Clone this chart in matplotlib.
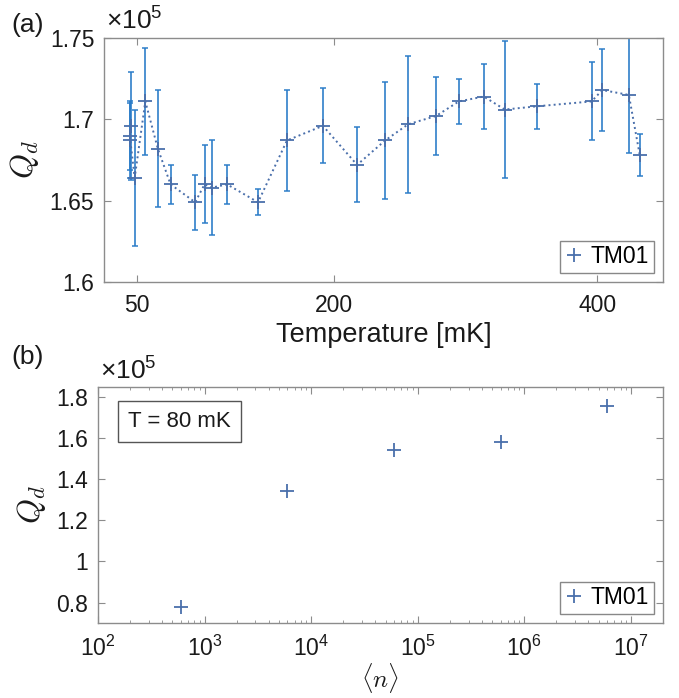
import numpy as np
import matplotlib
matplotlib.use('Agg')
import matplotlib.pyplot as plt
from matplotlib.lines import Line2D
from matplotlib.ticker import FixedLocator, LogLocator, NullFormatter

plt.rcParams['font.family'] = ['Liberation Sans', 'DejaVu Sans']
plt.rcParams['xtick.direction'] = 'in'
plt.rcParams['ytick.direction'] = 'in'

# (a) Q_d vs temperature, values in units of 1e5
temp_mK = [45.3, 44.8, 45.0, 48.3, 56.4, 65.9, 75.6, 94.3, 101.4, 106.9, 118.6,
           142.1, 164.1, 191.4, 217.4, 238.7, 256.3, 277.3, 294.8, 313.7, 329.7,
           354.2, 395.7, 403.8, 424.0, 432.3]
qd_temp = [1.696, 1.690, 1.687, 1.664, 1.711, 1.682, 1.660, 1.649, 1.660, 1.658,
           1.660, 1.649, 1.687, 1.696, 1.672, 1.687, 1.697, 1.702, 1.711, 1.714,
           1.706, 1.708, 1.711, 1.718, 1.715, 1.678]
qd_err = [0.033, 0.021, 0.023, 0.042, 0.033, 0.036, 0.012, 0.017, 0.024, 0.029,
          0.012, 0.008, 0.031, 0.023, 0.023, 0.036, 0.042, 0.024, 0.014, 0.020,
          0.042, 0.014, 0.024, 0.025, 0.036, 0.013]

# (b) Q_d vs photon number at T = 80 mK, values in units of 1e5
n_photon = [6e2, 6e3, 6e4, 6e5, 6e6]
qd_n = [0.777, 1.343, 1.541, 1.582, 1.758]

err_col = '#2a7cc8'
mk_col = '#4a6fab'
spine_col = '#8c8c8c'
txt_col = '#1a1a1a'

fig = plt.figure(figsize=(6.79, 6.98), dpi=100)
ax1 = fig.add_axes([0.1532, 0.596, 0.8233, 0.3496])
ax2 = fig.add_axes([0.1443, 0.1074, 0.8321, 0.3381])

# top panel
ax1.errorbar(temp_mK, qd_temp, yerr=qd_err, fmt='none', ecolor=err_col,
             elinewidth=1.3, capsize=2.5, capthick=1.2, alpha=0.9)
ax1.plot(temp_mK, qd_temp, ':', color=mk_col, lw=1.4)
ax1.plot(temp_mK, qd_temp, '+', color=mk_col, ms=10, mew=1.3)
ax1.set_xlim(25, 450)
ax1.set_ylim(1.6, 1.75)
ax1.xaxis.set_major_locator(FixedLocator([50, 200, 400]))
ax1.yaxis.set_major_locator(FixedLocator([1.6, 1.65, 1.7, 1.75]))
ax1.set_yticklabels(['1.6', '1.65', '1.7', '1.75'])
ax1.set_xlabel('Temperature [mK]', fontsize=19.5, color=txt_col, labelpad=3)
ax1.set_ylabel(r'$Q_d$', fontsize=23, math_fontfamily='cm', color=txt_col, labelpad=6)

# bottom panel
ax2.plot(n_photon, qd_n, '+', color=mk_col, ms=10, mew=1.3)
ax2.set_xscale('log')
ax2.set_xlim(1e2, 2e7)
ax2.set_ylim(0.7, 1.85)
ax2.xaxis.set_major_locator(FixedLocator([1e2, 1e3, 1e4, 1e5, 1e6, 1e7]))
ax2.xaxis.set_minor_locator(LogLocator(base=10, subs=np.arange(2, 10)))
ax2.xaxis.set_minor_formatter(NullFormatter())
ax2.set_xticklabels([r'$\mathregular{10^%d}$' % k for k in range(2, 8)])
ax2.yaxis.set_major_locator(FixedLocator([0.8, 1.0, 1.2, 1.4, 1.6, 1.8]))
ax2.set_yticklabels(['0.8', '1', '1.2', '1.4', '1.6', '1.8'])
ax2.set_xlabel(r'$\langle n\rangle$', fontsize=18, math_fontfamily='cm', color=txt_col, labelpad=0)
ax2.set_ylabel(r'$Q_d$', fontsize=23, math_fontfamily='cm', color=txt_col, labelpad=6)
ax2.text(0.053, 0.856, 'T = 80 mK', transform=ax2.transAxes, fontsize=16,
         color=txt_col, va='center', ha='left',
         bbox=dict(boxstyle='square,pad=0.45', fc='white', ec='#555555', lw=1))

for ax in (ax1, ax2):
    for s in ax.spines.values():
        s.set_color(spine_col)
        s.set_linewidth(1)
    ax.tick_params(which='both', top=True, right=True, color=spine_col,
                   labelsize=16.5, labelcolor=txt_col)
    ax.tick_params(which='major', length=5)
    ax.tick_params(axis='x', which='major', pad=9)
    ax.tick_params(axis='y', which='major', pad=7)
    ax.tick_params(which='minor', length=2.5)
    ax.text(0.004, 1.012, r'$\mathregular{\times10^5}$', transform=ax.transAxes,
            fontsize=19, color=txt_col, ha='left', va='bottom')
    h = Line2D([], [], ls='none', marker='+', color=mk_col, ms=10, mew=1.3)
    leg = ax.legend([h], ['TM01'], loc='lower right', fontsize=16.5, fancybox=False,
                    framealpha=1, edgecolor='#888888', handlelength=0.8,
                    handletextpad=0.35, borderpad=0.2, borderaxespad=0.4)
    leg.get_frame().set_linewidth(1)

fig.text(0.017, 0.964, '(a)', fontsize=19, color=txt_col, va='center')
fig.text(0.017, 0.489, '(b)', fontsize=19, color=txt_col, va='center')

fig.savefig('out.png', dpi=100)
